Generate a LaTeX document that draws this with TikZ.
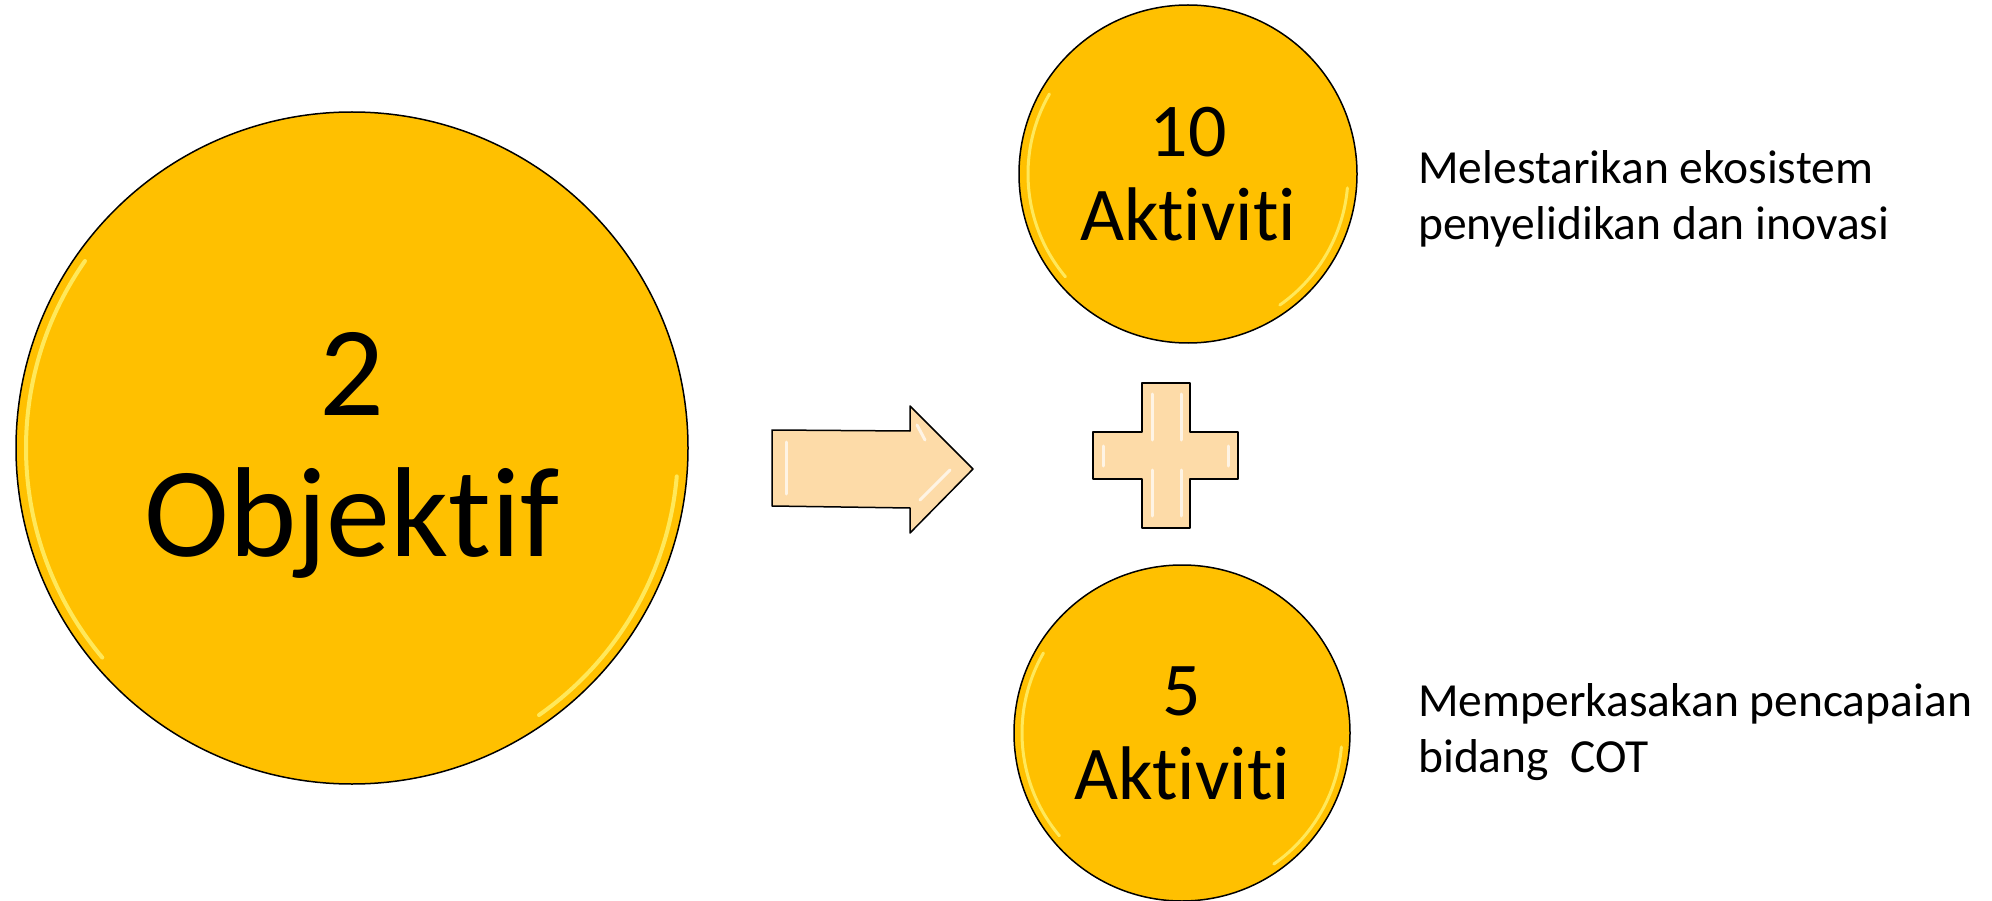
\documentclass[tikz,border=0pt]{standalone}
\usepackage{fontspec}
\setmainfont{Carlito}[Ligatures={NoCommon}]
\definecolor{gold}{HTML}{FFC000}
\definecolor{peach}{HTML}{FDDBA8}
\definecolor{shine}{HTML}{FFF06A}

\begin{document}
\begin{tikzpicture}[x=1pt,y=-1pt,
    every node/.style={inner sep=0pt},
    coin/.style={circle,draw=black,line width=1.5pt,fill=gold,align=center},
    note/.style={anchor=base west,align=left,font=\fontsize{47.5}{56}\selectfont},
    glint/.style={shine,line width=4pt,line cap=round,opacity=.85},
    bevel/.style={white,line width=3pt,line cap=round,opacity=.7}]
    \useasboundingbox (0,0) rectangle (1992,901);

    % circles
    \node[coin,minimum size=672pt] at (352,448) (obj) {};
    \node[align=center,font=\fontsize{128}{141}\selectfont] at ([yshift=-7pt]obj.center) (objtxt) {2\\Objektif};
    \node[coin,minimum size=338pt,font=\fontsize{76}{84}\selectfont] at (1188,174) (akt1) {10\\Aktiviti};
    \node[coin,minimum size=336pt,font=\fontsize{76}{84}\selectfont] at (1182,733) (akt2) {5\\Aktiviti};

    % shine on the rims
    \draw[glint] (obj.center) ++(140:326) arc[start angle=140,end angle=215,radius=326];
    \draw[glint] (obj.center) ++(5:326) arc[start angle=5,end angle=55,radius=326];
    \foreach \c in {akt1,akt2}
    {%
    \draw[glint,line width=3pt] (\c.center) ++(140:160) arc[start angle=140,end angle=210,radius=160];
    \draw[glint,line width=3pt] (\c.center) ++(5:160) arc[start angle=5,end angle=55,radius=160];
    }%

    % arrow and plus
    \draw[fill=peach,line width=1.5pt,line join=round] (772,430) -- (910,431) -- (910,406) -- (973,469)
        -- (910,533) -- (910,508) -- (772,506) -- cycle;
    \draw[bevel] (786,442) -- (786,494);
    \draw[bevel] (917,425) -- (925,440);
    \draw[bevel] (920,500) -- (950,470);
    \draw[fill=peach,line width=1.5pt,line join=round] (1142,383) -- (1190,383) -- (1190,432) -- (1238,432)
        -- (1238,479) -- (1190,479) -- (1190,528) -- (1142,528) -- (1142,479) -- (1093,479)
        -- (1093,432) -- (1142,432) -- cycle;
    \foreach \x in {1152,1181}
    {%
    \draw[bevel] (\x,394) -- (\x,440);
    \draw[bevel] (\x,470) -- (\x,516);
    }%
    \draw[bevel] (1103,446) -- (1103,466);
    \draw[bevel] (1228,446) -- (1228,466);

    % texts on the right
    \node[note] at (1418,240) (txt1) {Melestarikan ekosistem\\penyelidikan dan inovasi};
    \node[note] at (1418,772) (txt2) {Memperkasakan pencapaian\\bidang \ COT};
\end{tikzpicture}
\end{document}
